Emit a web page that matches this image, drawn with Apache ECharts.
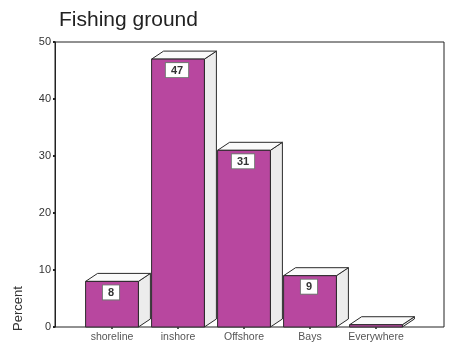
<!DOCTYPE html>
<html>
<head>
<meta charset="utf-8">
<script src="https://cdn.jsdelivr.net/npm/echarts@6/dist/echarts.min.js"></script>
<style>
  html, body { margin: 0; padding: 0; background: #fff; }
  #chart { width: 450px; height: 349px; }
</style>
</head>
<body>
<div id="chart"></div>
<script>
// Fishing ground survey: share of respondents per location (percent)
const categories = ['shoreline', 'inshore', 'Offshore', 'Bays', 'Everywhere'];
const percentValues = [8, 47, 31, 9, 0.4];
const yTicks = [0, 10, 20, 30, 40, 50];

const FRONT = '#b8479f';
const EDGE = '#2a2a2a';
const FONT = 'Liberation Sans, Arial, sans-serif';
const DX = 12, DY = 8; // oblique depth of the 3D boxes

function renderBox(params, api) {
  const idx = api.value(0);
  const v = api.value(1);
  const base = api.coord([idx, 0]);
  const top = api.coord([idx, v]);
  const bw = api.size([1, 0])[0] * 0.8;
  const l = base[0] - bw / 2, r = base[0] + bw / 2;
  const b = base[1], t = top[1];
  const children = [
    { type: 'polygon', shape: { points: [[r, t], [r + DX, t - DY], [r + DX, b - DY], [r, b]] },
      style: { fill: '#ececec', stroke: EDGE, lineWidth: 1 } },
    { type: 'polygon', shape: { points: [[l, t], [l + DX, t - DY], [r + DX, t - DY], [r, t]] },
      style: { fill: '#fafafa', stroke: EDGE, lineWidth: 1 } },
    { type: 'rect', shape: { x: l, y: t, width: bw, height: b - t },
      style: { fill: FRONT, stroke: EDGE, lineWidth: 1 } }
  ];
  if (v >= 1) {
    children.push({ type: 'text', style: {
      x: base[0] - 1, y: t + 4, text: String(Math.round(v)),
      align: 'center', verticalAlign: 'top', fontSize: 11, fontFamily: FONT,
      fontWeight: 'bold', fill: '#333',
      backgroundColor: '#fff', borderColor: '#777', borderWidth: 1, padding: [2, 5, 1, 5]
    } });
  }
  return { type: 'group', children };
}

const chart = echarts.init(document.getElementById('chart'), null, { renderer: 'canvas' });
chart.setOption({
  animation: false,
  backgroundColor: '#fff',
  title: {
    text: 'Fishing ground', left: 54, top: 5,
    textStyle: { fontSize: 21, fontWeight: 'normal', color: '#222', fontFamily: FONT }
  },
  grid: [
    { left: 55, right: 6, top: 42, bottom: 22, show: true, borderColor: '#222', borderWidth: 1, backgroundColor: 'transparent' },
    { left: 79, width: 330, top: 42, bottom: 22 }
  ],
  xAxis: [
    { gridIndex: 0, type: 'value', min: 0, max: 1, show: false },
    {
      gridIndex: 1, type: 'category', data: categories,
      axisLine: { show: false },
      axisTick: { show: true, alignWithLabel: true, length: 2, lineStyle: { color: '#555', width: 2 } },
      axisLabel: { color: '#555', fontSize: 10.5, margin: 5, fontFamily: FONT, interval: 0, hideOverlap: false }
    }
  ],
  yAxis: [
    {
      gridIndex: 0, type: 'value', min: 0, max: 50, interval: 10,
      axisLine: { show: true, lineStyle: { color: '#222', width: 1 } },
      axisTick: { show: true, length: 2, lineStyle: { color: '#222', width: 2 } },
      splitLine: { show: false },
      axisLabel: { color: '#333', fontSize: 11, margin: 4, fontFamily: FONT,
        formatter: (val) => yTicks.includes(val) ? String(val) : '' }
    },
    { gridIndex: 1, type: 'value', min: 0, max: 50, show: false }
  ],
  graphic: [
    { type: 'text', x: 12, y: 331, rotation: Math.PI / 2,
      style: { text: 'Percent', fontSize: 13, fill: '#333', fontFamily: FONT } }
  ],
  series: [
    {
      type: 'custom', xAxisIndex: 1, yAxisIndex: 1,
      data: percentValues.map((v, i) => [i, v]),
      renderItem: renderBox,
      clip: false
    }
  ]
});
</script>
</body>
</html>
